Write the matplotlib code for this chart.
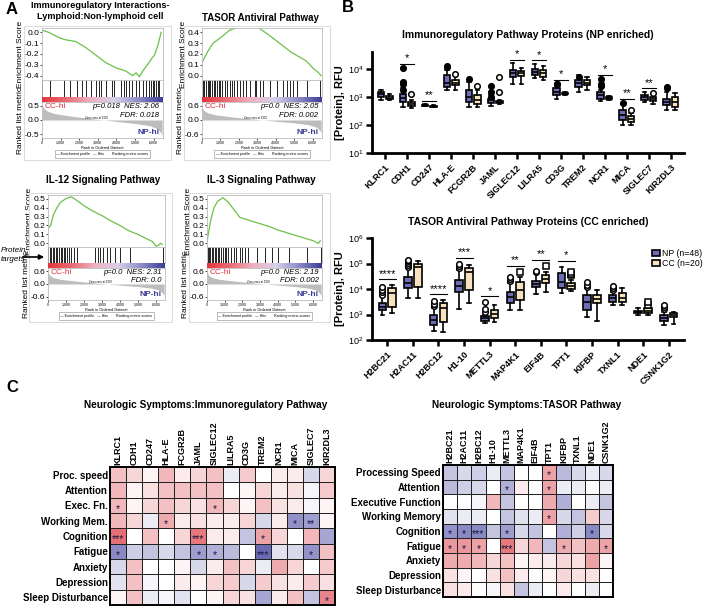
import numpy as np
import matplotlib
matplotlib.use('Agg')
import matplotlib.pyplot as plt
from matplotlib.colors import LinearSegmentedColormap
from matplotlib.patches import Rectangle, Patch, FancyArrowPatch

W, H = 709, 606
plt.rcParams['font.family'] = ['Liberation Sans', 'DejaVu Sans']

# ---------------- panel A data ----------------
gsea_titles = ["Immunoregulatory Interactions-\nLymphoid:Non-lymphoid cell",
               "TASOR Antiviral Pathway", "IL-12 Signaling Pathway", "IL-3 Signaling Pathway"]
gsea_stats = [("p=0.018  NES: 2.06", "FDR: 0.018"), ("p=0.0  NES: 2.05", "FDR: 0.002"),
              ("p=0.0  NES: 2.31", "FDR: 0.0"), ("p=0.0  NES: 2.19", "FDR: 0.002")]

es_rank_1 = [0, 360, 900, 1260, 1800, 2350, 2890, 3430, 3970, 4510, 4870, 5050, 5230, 5410, 5680, 5860, 6040, 6220, 6400]
es_val_1 = [0.02, 0.0, -0.047, -0.069, -0.084, -0.14, -0.21, -0.28, -0.327, -0.358, -0.40, -0.374, -0.41, -0.358, -0.296, -0.25, -0.21, -0.125, 0.0]
es_rank_2 = [0, 300, 600, 1000, 1500, 2000, 2400, 3000, 3500, 4200, 4800, 5600, 5800, 6000, 6300, 6450]
es_val_2 = [0.12, 0.22, 0.30, 0.35, 0.42, 0.45, 0.47, 0.45, 0.39, 0.30, 0.22, 0.14, 0.11, 0.07, 0.03, 0.0]
es_rank_3 = [0, 150, 300, 500, 700, 1000, 1300, 1600, 2000, 2500, 3000, 3500, 4000, 4500, 5000, 5500, 5800, 6000, 6150, 6250, 6350]
es_val_3 = [0.17, 0.20, 0.32, 0.40, 0.46, 0.50, 0.52, 0.48, 0.42, 0.36, 0.31, 0.25, 0.20, 0.14, 0.10, 0.05, 0.02, -0.03, -0.02, 0.0, -0.01]
es_rank_4 = [0, 200, 400, 600, 900, 1200, 1860, 2500, 3000, 3500, 4000, 4500, 5000, 5500, 6000, 6300, 6400]
es_val_4 = [0.02, 0.25, 0.40, 0.47, 0.51, 0.46, 0.29, 0.25, 0.22, 0.19, 0.15, 0.12, 0.09, 0.06, 0.03, 0.0, 0.03]

hits_1 = [0, 450, 1170, 1530, 1890, 2160, 2340, 2610, 2890, 3060, 3150, 3420, 3780, 3870, 4230, 4410, 4500,
          4680, 4860, 5040, 5220, 5400, 5580, 5760, 5850, 5940, 6040, 6130, 6220, 6310]
hits_2 = [30, 120, 200, 300, 380, 450, 550, 650, 720, 800, 900, 1000, 1100, 1250, 1350, 1500, 1600, 1750, 1900,
          2050, 2230, 2410, 2590, 2860, 2950, 3140, 3320, 3680, 4040, 4400, 4580, 4770, 4950, 5130, 5670, 6390]
hits_3 = [20, 100, 180, 250, 330, 420, 500, 600, 700, 780, 880, 950, 1050, 1150, 1300, 1450, 1600,
          2610, 2800, 2890, 3070, 3260, 3440, 3720, 4000, 4560, 6400]
hits_4 = [30, 110, 190, 260, 350, 430, 520, 600, 700, 800, 900, 1000, 1100, 1200, 1350, 1500, 1650, 1860,
          2000, 2150, 2300, 2800, 3250, 3700, 4000, 4650, 5650, 6440]

metric_rank = [0, 100, 300, 700, 1500, 2500, 3300, 4000, 5000, 5800, 6200, 6400, 6450]
metric_val = [0.55, 0.40, 0.30, 0.22, 0.14, 0.06, 0.0, -0.05, -0.12, -0.20, -0.30, -0.45, -0.55]

es_ticks = [[0.0, -0.1, -0.2, -0.3, -0.4], [0.0, 0.1, 0.2, 0.3, 0.4],
            [0.0, 0.1, 0.2, 0.3, 0.4, 0.5], [0.0, 0.1, 0.2, 0.3, 0.4, 0.5]]
metric_ticks = [[0.5, 0.0, -0.5], [0.6, 0.0, -0.6], [0.6, 0.0, -0.6], [0.6, 0.0, -0.6]]
rank_ticks = [0, 1000, 2000, 3000, 4000, 5000, 6000]
rank_labels = ["0", "1,000", "2,000", "3,000", "4,000", "5,000", "6,000"]

# ---------------- panel B data ----------------
imm_genes = ["KLRC1", "CDH1", "CD247", "HLA-E", "FCGR2B", "JAML", "SIGLEC12", "LILRA5",
             "CD3G", "TREM2", "NCR1", "MICA", "SIGLEC7", "KIR2DL3"]
# med, q1, q3, whisker low, whisker high
imm_np = [(1220, 1000, 1500, 760, 1740), (880, 660, 1320, 420, 2000), (500, 480, 520, 460, 540),
          (3200, 2300, 6000, 1740, 9000), (1000, 660, 1740, 420, 3400), (760, 610, 870, 470, 1150),
          (7200, 5200, 9500, 3000, 16000), (7800, 5900, 10000, 4700, 15000), (1500, 1150, 2000, 870, 2300),
          (3100, 2300, 4000, 1500, 5900), (1150, 870, 1500, 720, 1740), (220, 155, 330, 100, 580),
          (1000, 760, 1200, 660, 1500), (660, 500, 870, 330, 1500)]
imm_np_fl = [[], [1740, 3000, 3300, 11000], [], [12000, 12600], [4200], [1000, 1500, 2400], [], [],
             [2800, 3000], [5000], [2400, 3000, 4500], [620], [], [2000, 2300]]
imm_cc = [(950, 850, 1050, 750, 1250), (550, 470, 660, 390, 800), (470, 450, 490, 440, 500),
          (3200, 2600, 4000, 1740, 5500), (760, 550, 1150, 420, 1740), (660, 620, 690, 560, 760),
          (7000, 5500, 8400, 3000, 11000), (7000, 5200, 9000, 4000, 12600), (1320, 1250, 1400, 1150, 1500),
          (3200, 2700, 4000, 1740, 5000), (920, 860, 980, 800, 1050), (165, 130, 205, 100, 260),
          (850, 700, 1000, 560, 1300), (660, 450, 1000, 330, 1400)]
imm_cc_fl = [[], [1320], [], [6800], [2400], [1500, 5200], [], [], [], [], [], [330], [1400], []]
imm_stars = {"CDH1": "*", "CD247": "**", "SIGLEC12": "*", "LILRA5": "*", "CD3G": "*",
             "NCR1": "*", "MICA": "**", "SIGLEC7": "**"}

tas_genes = ["H2BC21", "H2AC11", "H2BC12", "H1-10", "METTL3", "MAP4K1", "EIF4B", "TPT1",
             "KIFBP", "TXNL1", "NDE1", "CSNK1G2"]
tas_np = [(2000, 1500, 2750, 1000, 5000), (16700, 10600, 30000, 4300, 65000), (600, 390, 960, 220, 1750),
          (13000, 7800, 22000, 1700, 56000), (700, 580, 850, 450, 1000), (5000, 2750, 7800, 1500, 16700),
          (15800, 12300, 20600, 6300, 41000), (19400, 10600, 41000, 6800, 75000), (3150, 1500, 5800, 820, 10600),
          (4300, 3150, 5800, 2350, 7400), (1260, 1120, 1400, 1000, 1750), (710, 560, 960, 390, 1300)]
tas_np_fl = [[6000, 7500, 9000, 12000], [75000, 90000, 105000, 120000, 135000], [2200, 2700, 3300],
             [65000, 80000, 100000], [1300, 1600, 3000], [20000, 25000, 30000], [45000, 50000], [],
             [12000, 15000, 19000], [9000, 11000, 13000], [], [1700, 2000, 2400]]
tas_cc = [(7000, 2000, 11000, 1100, 14000), (75000, 12300, 100000, 4300, 125000), (1750, 520, 2750, 210, 3700),
          (48000, 9100, 65000, 2750, 87000), (1050, 700, 1500, 520, 2350), (9100, 3700, 19500, 1500, 30000),
          (24600, 16700, 35000, 7400, 45000), (13000, 10000, 16700, 8300, 22700), (4000, 2750, 5800, 560, 9100),
          (4600, 3000, 6800, 2350, 10600), (1400, 1120, 1750, 1000, 2350), (1000, 820, 1170, 410, 1300)]
tas_cc_fl = [[], [], [], [], [], [48000], [80000], [35000, 40000, 45000], [], [], [2350, 3000], []]
tas_stars = {"H2BC21": "****", "H2BC12": "****", "H1-10": "***", "METTL3": "*",
             "MAP4K1": "**", "EIF4B": "**", "TPT1": "*"}

# ---------------- panel C data ----------------
sym_short = ["Proc. speed", "Attention", "Exec. Fn.", "Working Mem.", "Cognition", "Fatigue",
             "Anxiety", "Depression", "Sleep Disturbance"]
sym_long = ["Processing Speed", "Attention", "Executive Function", "Working Memory", "Cognition",
            "Fatigue", "Anxiety", "Depression", "Sleep Disturbance"]
imm_corr = [
    [0.30, 0.20, 0.05, 0.35, 0.10, 0.20, 0.30, -0.10, 0.25, 0.00, 0.10, 0.10, -0.20, 0.20],
    [0.35, 0.05, 0.15, 0.30, 0.30, 0.30, 0.30, 0.00, 0.05, 0.20, 0.10, 0.15, -0.05, 0.25],
    [0.35, 0.05, 0.20, 0.30, 0.20, 0.15, 0.35, 0.20, 0.05, 0.30, 0.15, 0.10, -0.05, 0.05],
    [0.35, 0.20, -0.10, 0.40, 0.10, 0.15, 0.10, 0.10, 0.20, -0.20, 0.10, -0.55, -0.50, 0.05],
    [0.70, 0.00, 0.30, 0.00, 0.20, 0.65, 0.10, 0.10, -0.30, 0.45, 0.20, 0.00, 0.35, -0.45],
    [-0.60, -0.25, -0.30, -0.20, -0.30, -0.50, -0.40, -0.35, 0.00, -0.75, -0.15, -0.20, -0.55, 0.30],
    [-0.20, 0.30, 0.00, 0.00, 0.05, -0.20, 0.10, 0.30, 0.20, -0.10, 0.40, 0.20, 0.00, 0.25],
    [-0.15, 0.30, -0.05, 0.00, 0.10, 0.05, 0.20, 0.25, -0.20, 0.25, 0.15, 0.10, 0.25, 0.15],
    [0.05, 0.30, -0.10, -0.05, -0.15, 0.00, 0.05, 0.20, 0.15, -0.45, 0.10, 0.30, -0.30, 0.60]]
imm_sig = [(2, 0, "*"), (2, 6, "*"), (3, 3, "*"), (3, 11, "*"), (3, 12, "**"), (4, 0, "***"),
           (4, 5, "***"), (4, 9, "*"), (5, 0, "*"), (5, 5, "*"), (5, 6, "*"), (5, 9, "***"),
           (5, 12, "*"), (8, 13, "*")]
tas_corr = [
    [-0.30, -0.20, -0.25, -0.10, -0.30, 0.00, 0.00, 0.45, -0.35, -0.20, -0.10, -0.20],
    [-0.35, -0.25, -0.20, 0.00, -0.40, 0.10, 0.00, 0.45, -0.10, -0.10, 0.00, -0.10],
    [0.00, 0.00, -0.05, 0.35, -0.30, 0.00, 0.00, 0.40, -0.40, 0.00, -0.10, -0.30],
    [-0.15, -0.10, -0.10, 0.00, -0.30, -0.15, -0.10, 0.45, -0.20, -0.30, 0.25, -0.20],
    [-0.55, -0.60, -0.60, -0.30, -0.50, -0.20, -0.30, 0.00, -0.40, -0.25, -0.60, -0.20],
    [0.50, 0.50, 0.45, 0.00, 0.65, 0.20, 0.35, -0.30, 0.40, 0.30, 0.40, 0.45],
    [0.40, 0.40, 0.35, 0.20, 0.30, 0.05, 0.10, 0.10, 0.20, 0.15, 0.45, 0.05],
    [0.15, 0.05, 0.00, 0.15, 0.30, 0.10, 0.00, 0.05, 0.20, 0.15, 0.15, 0.00],
    [0.15, 0.10, 0.00, -0.05, 0.15, -0.30, -0.10, 0.00, 0.10, 0.00, -0.10, 0.00]]
tas_sig = [(0, 7, "*"), (1, 4, "*"), (1, 7, "*"), (3, 7, "*"), (4, 0, "*"), (4, 1, "*"), (4, 2, "***"),
           (4, 4, "*"), (4, 10, "*"), (5, 0, "*"), (5, 1, "*"), (5, 2, "*"), (5, 4, "***"),
           (5, 8, "*"), (5, 11, "*")]

NP_COLOR = '#6d6db4'
CC_COLOR = '#f6e3bd'

fig = plt.figure(figsize=(7.09, 6.06), dpi=100)


def px_axes(x0, y0, x1, y1):
    return fig.add_axes([x0 / W, 1 - y1 / H, (x1 - x0) / W, (y1 - y0) / H])


def fig_text(x, y, s, **kw):
    fig.text(x / W, 1 - y / H, s, **kw)


# ---------------- panel A ----------------
heat_cmap = LinearSegmentedColormap.from_list(
    'gsea', ['#e5343c', '#ea6c74', '#efb0c0', '#d8d0ea', '#8c8cc8', '#3c3c98'])
# frame x0, x1, top, es bottom, hits bottom, heat bottom, metric bottom, outer box x0, x1, title x, title y, title size
gsea_layout = [(42, 163, 28, 80, 97, 102, 138, 24, 171, 100, 11, 6.6),
               (202, 322, 28, 80, 97, 102, 138, 184, 330, 260, 18, 7.0),
               (48, 165, 195, 247, 263, 268, 300, 29, 172, 103, 180, 7.2),
               (207, 322, 195, 247, 263, 268, 300, 189, 330, 261, 180, 7.2)]
es_ranks = [es_rank_1, es_rank_2, es_rank_3, es_rank_4]
es_vals = [es_val_1, es_val_2, es_val_3, es_val_4]
hits_all = [hits_1, hits_2, hits_3, hits_4]

for k in range(4):
    x0, x1, top, esb, hb, htb, mb, ox0, ox1, tx, ty, tsize = gsea_layout[k]
    fig.add_artist(Rectangle((ox0 / W, 1 - (mb + 22) / H), (ox1 - ox0) / W, (mb + 22 - top + 2) / H,
                             transform=fig.transFigure, fill=False, ec='#dddddd', lw=0.8))
    fig_text(tx, ty, gsea_titles[k], ha='center', va='center', fontsize=tsize, fontweight='bold',
             linespacing=1.15)

    ax = px_axes(x0, top, x1, esb)
    ax.plot(es_ranks[k], es_vals[k], color='#6cc04a', lw=0.9)
    ax.set_xlim(0, 6500)
    lo, hi = min(es_ticks[k]), max(es_ticks[k])
    ax.set_ylim(lo - 0.04, hi + 0.04)
    ax.set_yticks(es_ticks[k])
    ax.set_yticklabels([f"{t:.1f}" for t in es_ticks[k]], fontsize=6)
    ax.set_xticks([])
    ax.tick_params(axis='y', length=1.5, pad=0.5, width=0.5)
    ax.set_ylabel("Enrichment Score", fontsize=6, labelpad=0.5)
    for sp in ax.spines.values():
        sp.set_color('#bbbbbb')
        sp.set_linewidth(0.6)

    axh = px_axes(x0, esb, x1, hb)
    axh.vlines(hits_all[k], 0, 1, color='black', lw=0.6)
    axh.set_xlim(0, 6500)
    axh.set_ylim(0, 1)
    axh.set_xticks([])
    axh.set_yticks([])
    for sp in axh.spines.values():
        sp.set_color('#bbbbbb')
        sp.set_linewidth(0.6)

    axc = px_axes(x0, hb, x1, htb)
    axc.imshow(np.linspace(0, 1, 256)[None, :], aspect='auto', cmap=heat_cmap)
    axc.set_axis_off()

    axm = px_axes(x0, htb, x1, mb)
    axm.fill_between(metric_rank, 0, metric_val, color='#bdbdbd', lw=0)
    axm.set_xlim(0, 6500)
    mt = metric_ticks[k]
    axm.set_ylim(-mt[0] * 1.25, mt[0] * 1.25)
    axm.set_yticks(mt)
    axm.set_yticklabels([f"{t:.1f}" for t in mt], fontsize=6)
    axm.set_xticks(rank_ticks)
    axm.set_xticklabels(rank_labels, fontsize=2.5)
    axm.tick_params(axis='both', length=1.5, pad=0.5, width=0.5)
    axm.set_xlabel("Rank in Ordered Dataset", fontsize=2.8, labelpad=1)
    axm.set_ylabel("Ranked list metric", fontsize=6, labelpad=0.5)
    for sp in axm.spines.values():
        sp.set_color('#bbbbbb')
        sp.set_linewidth(0.6)
    axm.text(0.02, 0.98, "CC-hi", color='#e0303a', fontsize=6, transform=axm.transAxes, va='top')
    axm.text(0.97, 0.06, "NP-hi", color='#3c3c98', fontsize=6, fontweight='bold',
             transform=axm.transAxes, ha='right', va='bottom')
    axm.text(0.97, 0.97, gsea_stats[k][0], fontsize=5.5, style='italic', ha='right', va='top',
             transform=axm.transAxes)
    axm.text(0.97, 0.72, gsea_stats[k][1], fontsize=5.5, style='italic', ha='right', va='top',
             transform=axm.transAxes)
    axm.text(0.45, 0.52, "Zero cross at 3300", fontsize=2, ha='center', transform=axm.transAxes)

    lx = (x0 + x1) / 2
    fig_text(lx, mb + 16, "\u2014 Enrichment profile   \u2014 Hits        Ranking metric scores",
             fontsize=2.6, ha='center', va='center',
             bbox=dict(boxstyle='square,pad=0.5', fc='white', ec='#888888', lw=0.4))

fig_text(0.5, 255, "Protein\ntargets", fontsize=5.8, style='italic', ha='left', va='center',
         linespacing=1.3)
fig.add_artist(FancyArrowPatch((20 / W, 1 - 257 / H), (47 / W, 1 - 257 / H),
                               transform=fig.transFigure, arrowstyle='-|>',
                               mutation_scale=7, lw=1.2, color='black', zorder=5))

# ---------------- panel B ----------------


def draw_boxes(ax, genes, np_stats, np_fl, cc_stats, cc_fl, stars, np_open, cc_marker, factor):
    x = np.arange(len(genes))
    sets = [(np_stats, np_fl, -0.19, NP_COLOR, 'o', 'white' if np_open else 'black'),
            (cc_stats, cc_fl, 0.19, CC_COLOR, cc_marker, 'white')]
    for stats, fl, off, face, mk, mfc in sets:
        bx = [dict(med=s[0], q1=s[1], q3=s[2], whislo=s[3], whishi=s[4], fliers=f)
              for s, f in zip(stats, fl)]
        ax.bxp(bx, positions=x + off, widths=0.3, patch_artist=True, manage_ticks=False,
               boxprops=dict(facecolor=face, edgecolor='black', lw=1.2),
               medianprops=dict(color='black', lw=1.2),
               whiskerprops=dict(color='black', lw=1.2), capprops=dict(color='black', lw=1.2),
               flierprops=dict(marker=mk, mfc=mfc, mec='black', ms=4, mew=1.1))
    for i, g in enumerate(genes):
        if g in stars:
            top = max([np_stats[i][4], cc_stats[i][4]] + np_fl[i] + cc_fl[i]) * factor
            ax.plot([i - 0.33, i + 0.33], [top, top], color='black', lw=0.8)
            ax.text(i, top * 1.05, stars[g], ha='center', va='bottom', fontsize=8)
    ax.set_yscale('log')
    ax.set_xlim(-0.6, len(genes) - 0.4)
    ax.set_xticks(x)
    ax.set_xticklabels(genes, rotation=45, ha='right', rotation_mode='anchor', fontsize=7,
                       fontweight='bold')
    ax.minorticks_off()
    ax.tick_params(axis='both', width=1.8, length=4, labelsize=6.5, pad=2)
    ax.tick_params(axis='x', pad=3)
    for sp in ['top', 'right']:
        ax.spines[sp].set_visible(False)
    for sp in ['left', 'bottom']:
        ax.spines[sp].set_linewidth(2)
    ax.set_ylabel("[Protein], RFU", fontsize=8, fontweight='bold', labelpad=2)


ax1 = px_axes(372, 52, 684, 153)
draw_boxes(ax1, imm_genes, imm_np, imm_np_fl, imm_cc, imm_cc_fl, imm_stars, False, 'o', 1.35)
ax1.set_ylim(10, 4e4)
ax1.set_yticks([10, 100, 1000, 10000])
fig_text(528, 35, "Immunoregulatory Pathway Proteins (NP enriched)", fontsize=7.5, fontweight='bold',
         ha='center', va='center')

ax2 = px_axes(372, 238, 684, 340)
draw_boxes(ax2, tas_genes, tas_np, tas_np_fl, tas_cc, tas_cc_fl, tas_stars, True, 's', 1.7)
ax2.set_ylim(100, 1e6)
ax2.set_yticks([100, 1000, 10000, 100000, 1000000])
fig_text(528, 222, "TASOR Antiviral Pathway Proteins (CC enriched)", fontsize=7.5, fontweight='bold',
         ha='center', va='center')
ax2.legend(handles=[Patch(fc=NP_COLOR, ec='black', lw=1.2, label='NP (n=48)'),
                    Patch(fc=CC_COLOR, ec='black', lw=1.2, label='CC (n=20)')],
           loc='upper left', bbox_to_anchor=(652 / W, 1 - 249 / H), bbox_transform=fig.transFigure,
           frameon=False, fontsize=6.3, handlelength=0.9, handleheight=0.6, handletextpad=0.25,
           borderpad=0, borderaxespad=0, labelspacing=0.15)

# ---------------- panel C ----------------
hm_cmap = LinearSegmentedColormap.from_list('hm', ['#3a3a9c', '#ffffff', '#d8323a'])


def heatmap(ax, vals, rows, cols, sig):
    v = np.array(vals)
    ax.pcolormesh(v, cmap=hm_cmap, vmin=-1, vmax=1, edgecolors='#222222', linewidth=0.7)
    ax.set_xlim(0, len(cols))
    ax.set_ylim(len(rows), 0)
    ax.set_xticks(np.arange(len(cols)) + 0.5)
    ax.set_xticklabels(cols, rotation=90, fontsize=6.5, fontweight='bold')
    ax.xaxis.tick_top()
    ax.set_yticks(np.arange(len(rows)) + 0.5)
    ax.set_yticklabels(rows, fontsize=7, fontweight='bold')
    ax.tick_params(length=0, pad=1.5)
    for r, c, s in sig:
        ax.text(c + 0.5, r + 0.72, s, ha='center', va='center', fontsize=7.5, color='#15153a')
    for sp in ax.spines.values():
        sp.set_linewidth(1.4)


ax3 = px_axes(110, 467, 335, 605)
heatmap(ax3, imm_corr, sym_short, imm_genes, imm_sig)
fig_text(206, 405, "Neurologic Symptoms:Immunoregulatory Pathway", fontsize=7.3, fontweight='bold',
         ha='center', va='center')

ax4 = px_axes(443, 465, 613, 597)
heatmap(ax4, tas_corr, sym_long, tas_genes, tas_sig)
fig_text(527, 405, "Neurologic Symptoms:TASOR Pathway", fontsize=7.3, fontweight='bold',
         ha='center', va='center')

# panel letters
fig_text(12, 9, "A", fontsize=12, fontweight='bold', ha='center', va='center')
fig_text(348, 8, "B", fontsize=12, fontweight='bold', ha='center', va='center')
fig_text(12, 388, "C", fontsize=12, fontweight='bold', ha='center', va='center')

fig.savefig('out.png', dpi=100)
